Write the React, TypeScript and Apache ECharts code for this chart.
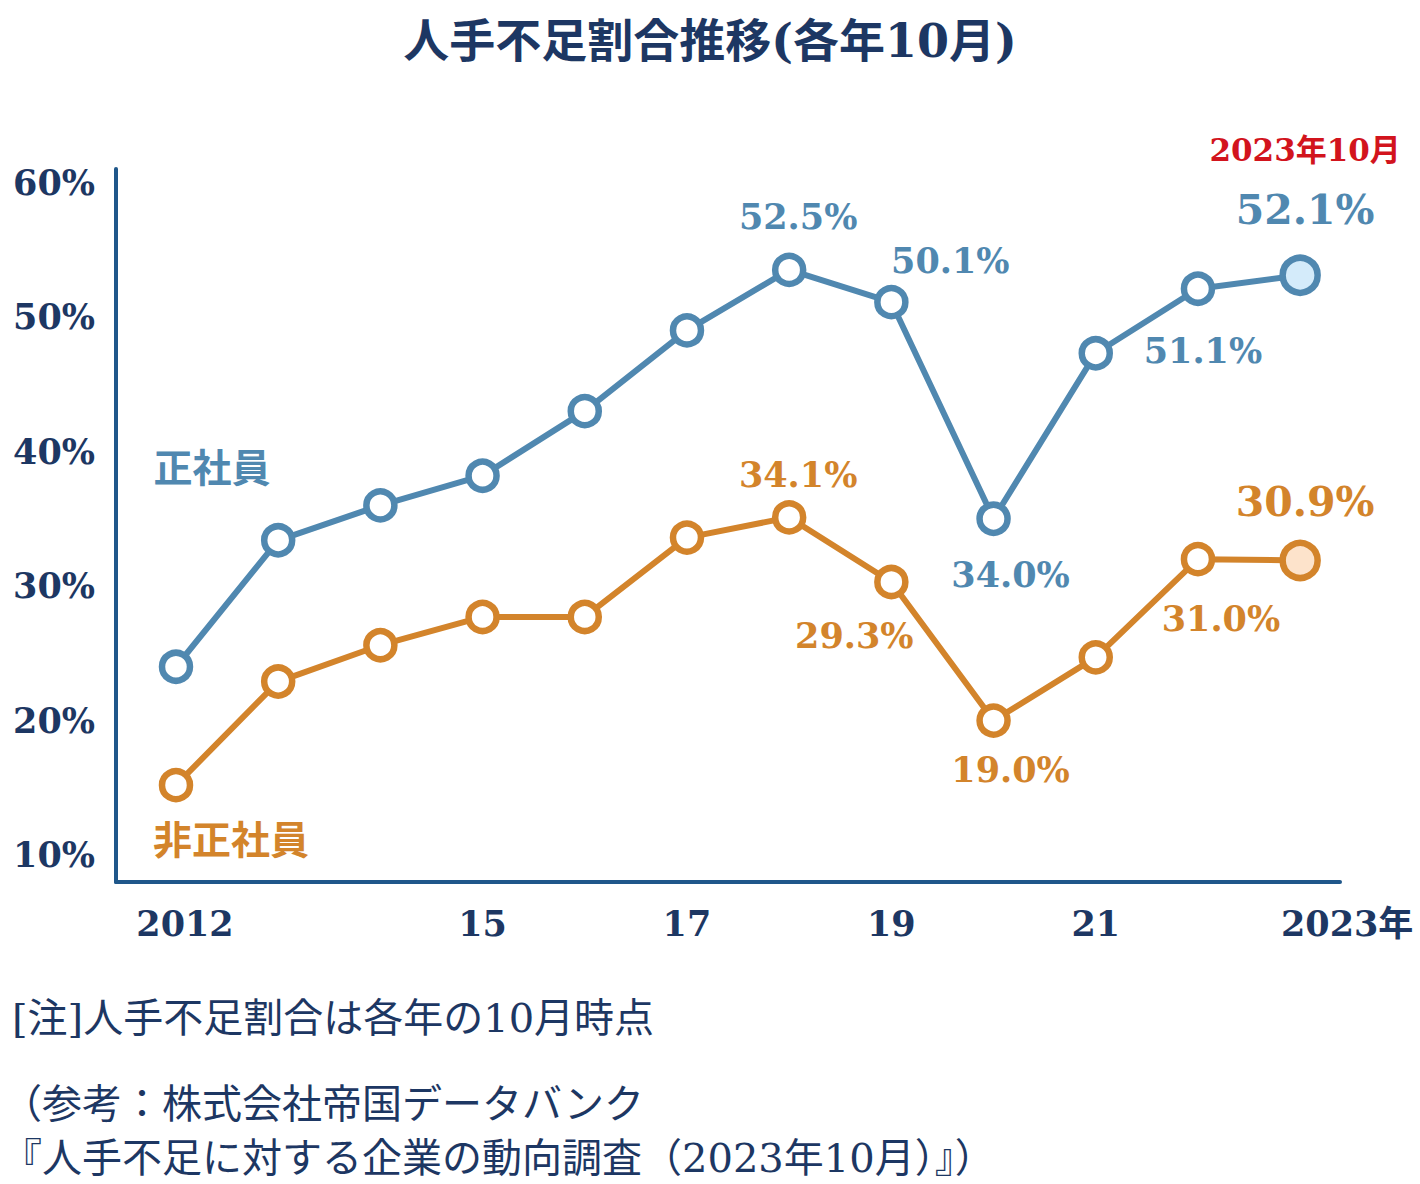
import React, { useEffect, useRef } from "react";
import * as echarts from "echarts";

const years = [2012, 2013, 2014, 2015, 2016, 2017, 2018, 2019, 2020, 2021, 2022, 2023];
const regular = [23.0, 32.4, 35.0, 37.2, 42.0, 48.0, 52.5, 50.1, 34.0, 46.3, 51.1, 52.1];
const nonRegular = [14.2, 21.9, 24.6, 26.7, 26.7, 32.6, 34.1, 29.3, 19.0, 23.7, 31.0, 30.9];
const yTicks = [10, 20, 30, 40, 50, 60];
const xTicks = [2012, 2015, 2017, 2019, 2021, 2023];
const titleText = "人手不足割合推移(各年10月)";
const seriesNames = ["正社員", "非正社員"];
const latestLabel = "2023年10月";
const notes = [
  "[注]人手不足割合は各年の10月時点",
  "（参考：株式会社帝国データバンク",
  "『人手不足に対する企業の動向調査（2023年10月）』）",
];

const BLUE = "#5088b0";
const ORANGE = "#d3842b";
const NAVY = "#1d3763";
const AXIS = "#1f578a";
const RED = "#d2141d";
const SERIF = "'DejaVu Serif', 'Noto Sans CJK JP', serif";

// label offsets relative to the point centre (style, not data)
const regularLabelPos: Record<number, [number, number]> = {
  6: [9, -53],
  7: [59, -42],
  8: [17, 56],
  10: [5, 62],
  11: [5, -95],
};
const nonRegularLabelPos: Record<number, [number, number]> = {
  6: [9, -43],
  7: [-37, 53],
  8: [17, 49],
  10: [23, 59],
  11: [5, -58],
};

function buildData(values: number[], pos: Record<number, [number, number]>, color: string, lastFill: string) {
  return values.map((v, i) => {
    const last = i === values.length - 1;
    const item: any = { value: [years[i], v] };
    if (pos[i]) {
      item.label = {
        show: true,
        position: "inside",
        offset: pos[i],
        fontSize: last ? 41 : 35,
      };
    }
    if (last) {
      item.symbolSize = 35;
      item.itemStyle = { color: lastFill, borderColor: color, borderWidth: 6.5 };
    }
    return item;
  });
}

function makeSeries(name: string, values: number[], pos: Record<number, [number, number]>, color: string, lastFill: string, withDate: boolean) {
  return {
    name,
    type: "line",
    data: buildData(values, pos, color, lastFill),
    symbol: "circle",
    symbolSize: 28,
    lineStyle: { color, width: 6 },
    itemStyle: { color: "#ffffff", borderColor: color, borderWidth: 6.5 },
    label: {
      show: false,
      color,
      fontFamily: SERIF,
      fontWeight: "bold",
      fontSize: 35,
      formatter: (p: any) => {
        const txt = p.value[1].toFixed(1) + "%";
        if (withDate && p.dataIndex === values.length - 1) {
          return "{r|" + latestLabel + "}\n{v|" + txt + "}";
        }
        return txt;
      },
      rich: {
        r: { fontSize: 31, fontWeight: "bold", color: RED, fontFamily: SERIF, lineHeight: 60, align: "center" },
        v: { fontSize: 41, fontWeight: "bold", color, fontFamily: SERIF, lineHeight: 60, align: "center" },
      },
    },
    emphasis: { disabled: true },
    z: 3,
  };
}

export default function App() {
  const ref = useRef<HTMLDivElement>(null);
  useEffect(() => {
    document.body.style.margin = "0";
    if (!ref.current) return;
    const chart = echarts.init(ref.current, null, { renderer: "svg" });
    const option: any = {
      animation: false,
      backgroundColor: "#ffffff",
      title: {
        text: titleText,
        left: "center",
        top: 13,
        textStyle: { fontSize: 46, fontWeight: "bold", color: NAVY, fontFamily: SERIF },
      },
      grid: { left: 116, right: 80, top: 169, bottom: 302 },
      xAxis: {
        type: "value",
        min: 2011.413,
        max: 2023.39,
        axisLine: { show: true, lineStyle: { color: AXIS, width: 4 } },
        axisTick: { show: false },
        splitLine: { show: false },
        axisLabel: {
          customValues: xTicks,
          margin: 24,
          color: NAVY,
          fontFamily: SERIF,
          fontWeight: "bold",
          fontSize: 35,
          formatter: (v: number) => {
            if (v === xTicks[0]) return "{s|" + v + "}";
            if (v === xTicks[xTicks.length - 1]) return "{e|" + v + "年}";
            return String(v).slice(2);
          },
          rich: {
            s: { padding: [0, 0, 0, 18], fontSize: 35, fontWeight: "bold", color: NAVY, fontFamily: SERIF },
            e: { padding: [0, 0, 0, 94], fontSize: 35, fontWeight: "bold", color: NAVY, fontFamily: SERIF },
          },
        },
      },
      yAxis: {
        type: "value",
        min: 7,
        max: 60,
        axisLine: { show: true, lineStyle: { color: AXIS, width: 4 } },
        axisTick: { show: false },
        splitLine: { show: false },
        axisLabel: {
          customValues: yTicks,
          margin: 21,
          color: NAVY,
          fontFamily: SERIF,
          fontWeight: "bold",
          fontSize: 35,
          verticalAlign: "top",
          lineHeight: 26,
          formatter: (v: number) => v + "%",
        },
      },
      series: [
        makeSeries(seriesNames[0], regular, regularLabelPos, BLUE, "#d4ebfa", true),
        makeSeries(seriesNames[1], nonRegular, nonRegularLabelPos, ORANGE, "#fde3cb", false),
      ],
      graphic: [
        {
          type: "text",
          x: 212,
          y: 468,
          style: { text: seriesNames[0], fill: BLUE, font: "bold 39px " + SERIF, align: "center", verticalAlign: "middle" },
        },
        {
          type: "text",
          x: 231,
          y: 840,
          style: { text: seriesNames[1], fill: ORANGE, font: "bold 39px " + SERIF, align: "center", verticalAlign: "middle" },
        },
        {
          type: "text",
          x: 12,
          y: 1018,
          style: { text: notes[0], fill: NAVY, font: "40px " + SERIF, align: "left", verticalAlign: "middle" },
        },
        {
          type: "text",
          x: 2,
          y: 1104,
          style: { text: notes[1], fill: NAVY, font: "40px " + SERIF, align: "left", verticalAlign: "middle" },
        },
        {
          type: "text",
          x: 2,
          y: 1158,
          style: { text: notes[2], fill: NAVY, font: "40px " + SERIF, align: "left", verticalAlign: "middle" },
        },
      ],
    };
    chart.setOption(option);
    return () => chart.dispose();
  }, []);
  return <div ref={ref} style={{ width: 1420, height: 1184 }} />;
}
